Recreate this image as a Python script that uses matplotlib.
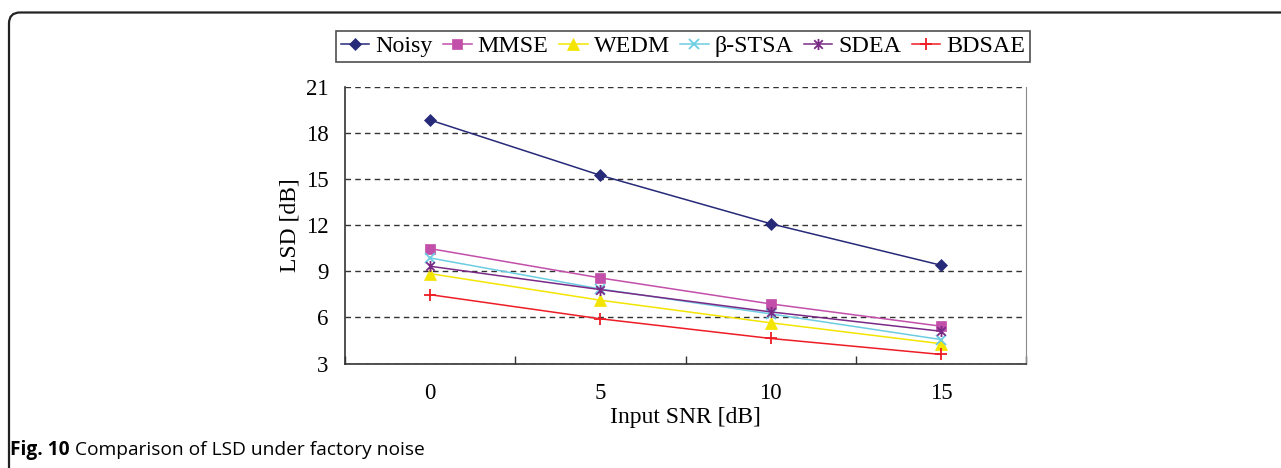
import numpy as np
import matplotlib
matplotlib.use("Agg")
import matplotlib.pyplot as plt
from matplotlib.path import Path
from matplotlib.patches import FancyBboxPatch

# input SNR categories and LSD values per method
snr = ["0", "5", "10", "15"]
noisy = [18.85, 15.25, 12.10, 9.40]
mmse = [10.48, 8.57, 6.88, 5.43]
wedm = [8.85, 7.12, 5.65, 4.29]
stsa = [9.87, 7.85, 6.23, 4.56]
sdea = [9.33, 7.81, 6.36, 5.10]
bdsae = [7.48, 5.91, 4.63, 3.59]

# excel-style star: an x with a vertical bar through it
star = Path([(-1, -1), (1, 1), (-1, 1), (1, -1), (0, -1.3), (0, 1.3)],
            [Path.MOVETO, Path.LINETO, Path.MOVETO, Path.LINETO, Path.MOVETO, Path.LINETO])

series = [
    ("Noisy", noisy, "#262a78", "D", 6),
    ("MMSE", mmse, "#c24fa9", "s", 6.5),
    ("WEDM", wedm, "#f3e500", "^", 8),
    ("β-STSA", stsa, "#6ccde2", "x", 7),
    ("SDEA", sdea, "#7a2a86", star, 8),
    ("BDSAE", bdsae, "#ee1c25", "+", 9),
]

serif = "Liberation Serif"

fig = plt.figure(figsize=(12.81, 4.68), dpi=100)

# rounded frame around the figure (open at right and bottom), in inches
frame = FancyBboxPatch((0.09, -1.0), 20, 4.68 - 0.125 + 1.0,
                       boxstyle="round,pad=0,rounding_size=0.11",
                       transform=fig.dpi_scale_trans, fill=False,
                       edgecolor="#222222", linewidth=1.6)
fig.patches.append(frame)

ax = fig.add_axes([345 / 1281, (468 - 363.5) / 468, (1026 - 345) / 1281, (363.5 - 87) / 468])
x = np.arange(len(snr))

for name, vals, color, marker, ms in series:
    mew = 1.3 if marker in ("x", "+") or marker is star else 0.5
    ax.plot(x, vals, color=color, linewidth=1.1, marker=marker, markersize=ms,
            markeredgewidth=mew, markeredgecolor=color, markerfacecolor=color,
            label=name)

ax.set_xlim(-0.5, 3.5)
ax.set_ylim(3, 21)
ax.set_yticks(np.arange(3, 22, 3))
ax.set_xticks(x)
ax.set_xticklabels(snr)
ax.set_xticks(np.arange(-0.5, 4, 1), minor=True)
ax.tick_params(axis="x", which="major", length=0, pad=14, labelsize=16.5)
ax.tick_params(axis="x", which="minor", direction="in", length=6, width=1, color="#333333")
ax.tick_params(axis="y", length=0, pad=12, labelsize=16.5)
for lab in ax.get_xticklabels() + ax.get_yticklabels():
    lab.set_fontfamily(serif)

ax.grid(axis="y", color="#333333", linestyle=(0, (4, 3)), linewidth=1.0)
ax.set_axisbelow(True)
ax.spines["top"].set_visible(False)
ax.spines["right"].set_color("#8a8a8a")
ax.spines["left"].set_color("#333333")
ax.spines["bottom"].set_color("#333333")
ax.spines["left"].set_linewidth(1.2)
ax.spines["bottom"].set_linewidth(1.2)

ax.set_xlabel("Input SNR [dB]", fontfamily=serif, fontsize=17, labelpad=2)
ax.set_ylabel("LSD [dB]", fontfamily=serif, fontsize=17, labelpad=4)

leg = fig.legend(loc="center", bbox_to_anchor=(683 / 1281, (468 - 46.5) / 468), ncol=6,
                 prop={"family": serif, "size": 17.3}, frameon=True, fancybox=False,
                 handlelength=1.2, handletextpad=0.25, columnspacing=0.42,
                 borderpad=0.2, borderaxespad=0)
leg.get_frame().set_edgecolor("#222222")
leg.get_frame().set_linewidth(1.2)

fig.text(10 / 1281, (468 - 450) / 468, "Fig. 10", fontfamily="Open Sans",
         fontweight="bold", fontsize=13.8, va="center", ha="left")
fig.text(75 / 1281, (468 - 450) / 468, "Comparison of LSD under factory noise",
         fontfamily="Open Sans", fontsize=13.8, va="center", ha="left")

fig.savefig("out.png", dpi=100)
